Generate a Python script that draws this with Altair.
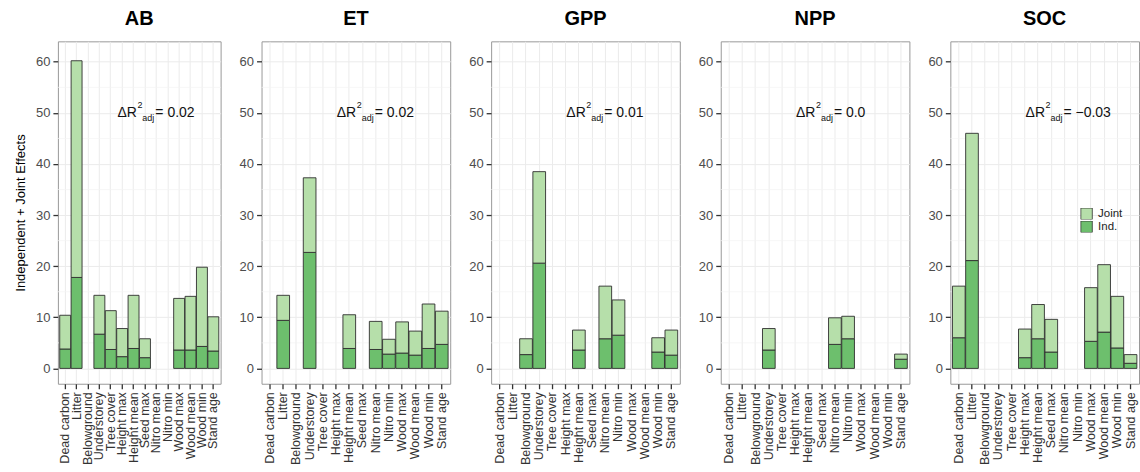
import altair as alt
import pandas as pd

variables = ["Dead carbon", "Litter", "Belowground", "Understorey", "Tree cover",
             "Height max", "Height mean", "Seed max", "Nitro mean", "Nitro min",
             "Wood max", "Wood mean", "Wood min", "Stand age"]
responses = ["AB", "ET", "GPP", "NPP", "SOC"]

ind_values = {
    "AB":  [3.8, 17.8, None, 6.7, 3.7, 2.3, 3.9, 2.1, None, None, 3.6, 3.6, 4.3, 3.4],
    "ET":  [None, 9.4, None, 22.7, None, None, 3.9, None, 3.7, 2.8, 3.0, 2.6, 3.9, 4.7],
    "GPP": [None, None, 2.7, 20.6, None, None, 3.6, None, 5.8, 6.5, None, None, 3.2, 2.6],
    "NPP": [None, None, None, 3.6, None, None, None, None, 4.7, 5.8, None, None, None, 1.8],
    "SOC": [6.0, 21.1, None, None, None, 2.1, 5.8, 3.2, None, None, 5.3, 7.1, 4.0, 1.0],
}
joint_values = {
    "AB":  [6.6, 42.4, None, 7.6, 7.6, 5.5, 10.4, 3.7, None, None, 10.1, 10.5, 15.5, 6.7],
    "ET":  [None, 4.9, None, 14.6, None, None, 6.6, None, 5.5, 2.9, 6.1, 4.7, 8.7, 6.5],
    "GPP": [None, None, 3.1, 17.9, None, None, 3.9, None, 10.3, 6.9, None, None, 2.8, 4.9],
    "NPP": [None, None, None, 4.2, None, None, None, None, 5.2, 4.4, None, None, None, 1.0],
    "SOC": [10.1, 24.9, None, None, None, 5.6, 6.7, 6.4, None, None, 10.5, 13.2, 10.1, 1.7],
}
delta_r2 = ["0.02", "0.02", "0.01", "0.0", "\u22120.03"]
y_ticks = [0, 10, 20, 30, 40, 50, 60]
minor_grid = [5, 15, 25, 35, 45, 55]

rows = []
for r in responses:
    for v, i, j in zip(variables, ind_values[r], joint_values[r]):
        if i is None:
            continue
        rows.append(dict(response=r, variable=v, component="Ind.", ord=0, value=i))
        rows.append(dict(response=r, variable=v, component="Joint", ord=1, value=j))
df = pd.DataFrame(rows)
ann = pd.DataFrame({"response": responses,
                    "label": ["= " + d for d in delta_r2],
                    "variable": ["Nitro mean"] * 5,
                    "value": [50] * 5})
minor_df = pd.DataFrame({"value": minor_grid})

FONT = "Liberation Sans"
LIGHT = "#b6dfaa"
DARK = "#6dbf6d"

xscale = alt.Scale(domain=variables, paddingInner=0.04, paddingOuter=0.16)
yscale = alt.Scale(domain=[-3, 64], nice=False, zero=False)


def panel(idx, r):
    first = idx == 0
    w = 163 if first else 189
    yaxis_kw = dict(values=y_ticks, grid=True, gridColor="#ebebeb", gridWidth=1,
                    labelFontSize=13, labelColor="#4d4d4d", labelPadding=3)
    if first:
        yaxis_kw.update(title="Independent + Joint Effects", titleFontSize=13,
                        titleFontWeight="normal", titleColor="#000", titlePadding=8)
    else:
        yaxis_kw.update(title=None)
    yaxis = alt.Axis(**yaxis_kw)
    xaxis = alt.Axis(title=None, labelAngle=270, bandPosition=0.5, grid=True,
                     gridColor="#ebebeb", gridWidth=1, labelFontSize=12.5,
                     labelColor="#333", labelPadding=3)
    X = alt.X("variable:N", sort=variables, scale=xscale, axis=xaxis)
    Y = alt.Y("value:Q", scale=yscale, axis=yaxis)

    minor = alt.Chart(minor_df).mark_rule(color="#f4f4f4", strokeWidth=0.7).encode(y=Y)
    bars = alt.Chart(df[df.response == r]).mark_bar(
        stroke="#2e2e2e", strokeWidth=0.9, opacity=1
    ).encode(
        x=X,
        y=alt.Y("value:Q", stack="zero", scale=yscale, axis=yaxis),
        color=alt.Color("component:N",
                        scale=alt.Scale(domain=["Joint", "Ind."], range=[LIGHT, DARK]),
                        legend=alt.Legend(title=None, orient="none", legendX=1024, legendY=167,
                                          symbolType="square", symbolSize=132,
                                          symbolStrokeColor="#333", symbolStrokeWidth=0.8,
                                          rowPadding=0, labelFontSize=11.5, labelFont=FONT,
                                          labelColor="#222", labelOffset=5, padding=0,
                                          clipHeight=11.5)),
        order=alt.Order("ord:Q"),
    )
    a = alt.Chart(ann[ann.response == r])
    t1 = a.mark_text(text="\u0394R", align="left", baseline="middle", dx=-39,
                     fontSize=14, font=FONT, color="#111").encode(x=X, y=Y)
    t2 = a.mark_text(text="2", align="left", baseline="middle", dx=-19, dy=-8,
                     fontSize=9, font=FONT, color="#111").encode(x=X, y=Y)
    t3 = a.mark_text(text="adj", align="left", baseline="middle", dx=-14, dy=5,
                     fontSize=9, font=FONT, color="#111").encode(x=X, y=Y)
    t4 = a.mark_text(align="left", baseline="middle", dx=-1,
                     fontSize=14, font=FONT, color="#111").encode(text="label:N", x=X, y=Y)
    return alt.layer(minor, bars, t1, t2, t3, t4).properties(
        width=w, height=343,
        title=alt.TitleParams(r, fontSize=20, fontWeight="bold", anchor="middle",
                              offset=12, color="#000", font=FONT),
    )


chart = alt.hconcat(*[panel(i, r) for i, r in enumerate(responses)],
                    spacing=41, bounds="flush").resolve_scale(color="shared").resolve_legend(
    color="shared").properties(
    padding={"left": 14, "top": 8, "right": 0, "bottom": 0}
).configure(font=FONT).configure_view(
    stroke="#999999", strokeWidth=1
).configure_axis(
    domain=False, tickColor="#333333", tickWidth=1.3, tickSize=5,
    labelFont=FONT, titleFont=FONT
)

chart.save("out.html", embed_options={"renderer": "svg", "actions": False})
